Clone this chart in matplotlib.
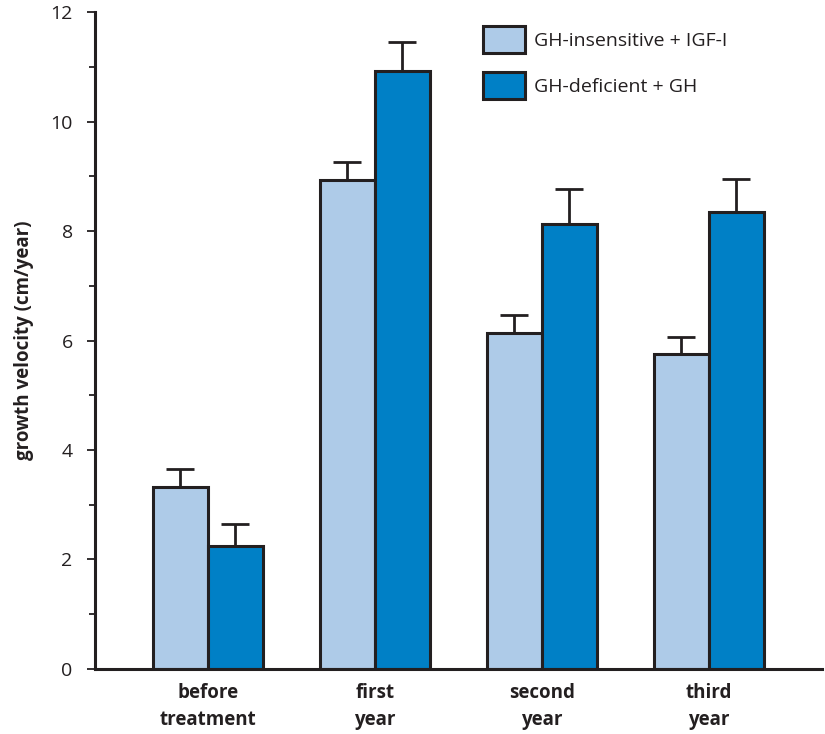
import numpy as np
import matplotlib.pyplot as plt
from matplotlib.ticker import MultipleLocator

plt.rcParams['font.family'] = ['Open Sans', 'DejaVu Sans']

groups = ['before\ntreatment', 'first\nyear', 'second\nyear', 'third\nyear']
series_names = ['GH-insensitive + IGF-I', 'GH-deficient + GH']
igf = [3.32, 8.93, 6.14, 5.75]
igf_err = [0.33, 0.33, 0.32, 0.32]
gh = [2.24, 10.92, 8.13, 8.35]
gh_err = [0.41, 0.53, 0.64, 0.60]

light = '#aecbe8'
dark = '#0080c6'
ink = '#231f20'

fig = plt.figure(figsize=(8.25, 7.34), dpi=100)
ax = fig.add_axes([0.115, 0.0886, 0.881, 0.895])

x = np.arange(len(groups))
w = 0.33
err_kw = dict(ecolor=ink, elinewidth=2, capsize=10, capthick=2)
ax.bar(x - w / 2, igf, w, color=light, edgecolor=ink, linewidth=2.2,
       yerr=[np.zeros(len(igf)), igf_err], error_kw=err_kw,
       label=series_names[0])
ax.bar(x + w / 2, gh, w, color=dark, edgecolor=ink, linewidth=2.2,
       yerr=[np.zeros(len(gh)), gh_err], error_kw=err_kw,
       label=series_names[1])

ax.set_xlim(-0.677, 3.677)
ax.set_ylim(0, 12)
ax.yaxis.set_major_locator(MultipleLocator(2))
ax.yaxis.set_minor_locator(MultipleLocator(1))
ax.set_xticks(x)
ax.set_xticklabels(groups, fontsize=13.5, fontweight='bold', color=ink,
                   linespacing=1.45)
ax.tick_params(axis='x', length=0, pad=10)
ax.tick_params(axis='y', which='major', length=6, width=1.3, color=ink,
               labelsize=14, labelcolor=ink, pad=10)
ax.tick_params(axis='y', which='minor', length=4, width=1.3, color=ink)

for s in ['top', 'right']:
    ax.spines[s].set_visible(False)
for s in ['left', 'bottom']:
    ax.spines[s].set_linewidth(2.2)
    ax.spines[s].set_color(ink)

ax.set_ylabel('growth velocity (cm/year)', fontsize=13.5, fontweight='bold',
              color=ink, labelpad=12)

ax.legend(loc='upper left', bbox_to_anchor=(483 / 825, 1 - 26 / 734),
          bbox_transform=fig.transFigure, frameon=False, fontsize=14,
          handlelength=2.15, handleheight=1.75, handletextpad=0.45,
          labelspacing=1.0, borderpad=0, borderaxespad=0,
          labelcolor=ink)

fig.savefig('out.png', dpi=100)
